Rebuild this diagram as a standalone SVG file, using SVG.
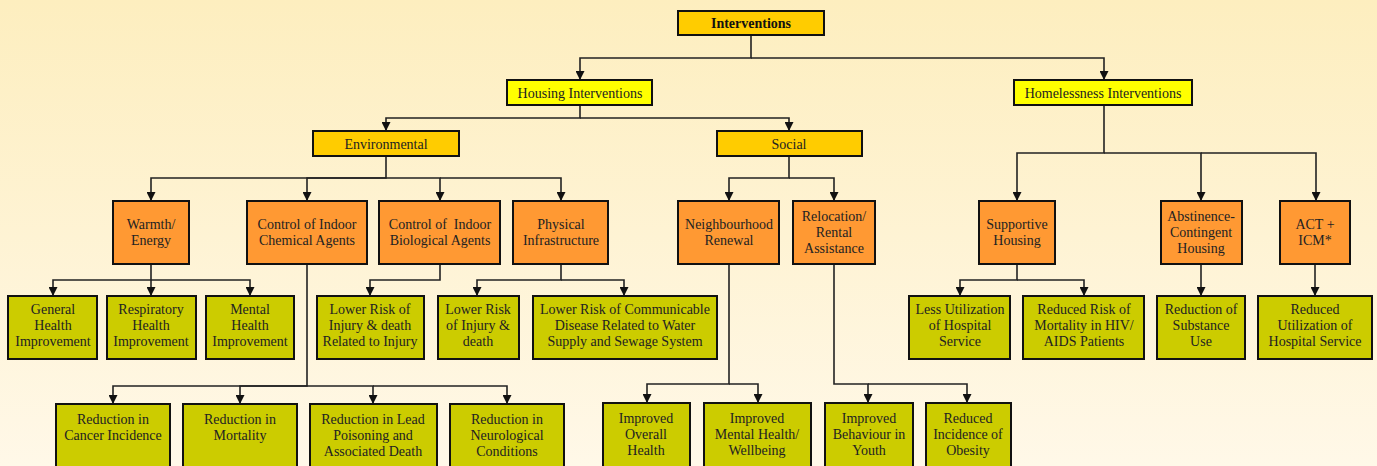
<svg xmlns="http://www.w3.org/2000/svg" width="1377" height="466" viewBox="0 0 1377 466">
<defs>
<linearGradient id="bg" x1="0" y1="0" x2="0" y2="1">
<stop offset="0" stop-color="#fdeebf"/>
<stop offset="1" stop-color="#fff8e8"/>
</linearGradient>
<marker id="arr" viewBox="0 0 10 10" refX="10" refY="5" markerWidth="9" markerHeight="9" markerUnits="userSpaceOnUse" orient="auto">
<path d="M0,0 L10,5 L0,10 z" fill="#111"/>
</marker>
<style>
.box rect{stroke:#111;stroke-width:2}
.top rect{fill:#ffcc00}
.l1 rect{fill:#ffff00}
.l2 rect{fill:#ffcc00}
.l3 rect{fill:#ff9933}
.l4 rect{fill:#cccc00}
text{font-family:"Liberation Serif","Times New Roman",serif;font-size:14px;fill:#222;text-anchor:middle}
.b{font-weight:bold;fill:#111}
#connectors path{fill:none;stroke:#222;stroke-width:1.6}
#connectors path.a{marker-end:url(#arr)}
</style>
</defs>
<rect x="0" y="0" width="1377" height="466" fill="url(#bg)"/>

<g id="connectors">
<path class="a" d="M751,35 V58 H580 V80"/>
<path class="a" d="M751,58 H1104 V80"/>
<path class="a" d="M580,105 V118 H386 V131"/>
<path class="a" d="M580,118 H789 V131"/>
<path class="a" d="M386,156 V178 H151 V201"/>
<path class="a" d="M386,178 H307 V201"/>
<path class="a" d="M386,178 H440 V201"/>
<path class="a" d="M440,178 H561 V201"/>
<path class="a" d="M789,156 V178 H729 V201"/>
<path class="a" d="M789,178 H834 V201"/>
<path class="a" d="M1104,105 V153 H1017 V201"/>
<path class="a" d="M1104,153 H1201 V201"/>
<path class="a" d="M1201,153 H1316 V201"/>
<path class="a" d="M151,264 V280 H53 V296"/>
<path class="a" d="M151,280 V296"/>
<path class="a" d="M151,280 H250 V296"/>
<path class="a" d="M440,264 V280 H370 V296"/>
<path class="a" d="M561,264 V280 H477 V296"/>
<path class="a" d="M561,280 H624 V296"/>
<path class="a" d="M307,264 V386 H113 V404"/>
<path class="a" d="M307,386 H240 V404"/>
<path class="a" d="M307,386 H373 V404"/>
<path class="a" d="M373,386 H507 V404"/>
<path class="a" d="M729,264 V384 H647 V403"/>
<path class="a" d="M729,384 H758 V403"/>
<path class="a" d="M834,264 V384 H868 V403"/>
<path class="a" d="M868,384 H967 V403"/>
<path class="a" d="M1017,264 V280 H960 V296"/>
<path class="a" d="M1017,280 H1084 V296"/>
<path class="a" d="M1201,264 V296"/>
<path class="a" d="M1315,264 V296"/>
</g>

<g id="n-interventions" class="box top"><rect x="678" y="11" width="146" height="24"/><text class="b" x="751" y="28">Interventions</text></g>
<g id="n-housing" class="box l1"><rect x="507" y="80" width="145" height="25"/><text x="580" y="97.5">Housing Interventions</text></g>
<g id="n-homeless" class="box l1"><rect x="1014" y="80" width="178" height="25"/><text x="1103" y="97.5">Homelessness Interventions</text></g>
<g id="n-environmental" class="box l2"><rect x="313" y="131" width="146" height="25"/><text x="386" y="148.5">Environmental</text></g>
<g id="n-social" class="box l2"><rect x="717" y="131" width="145" height="25"/><text x="789" y="148.5">Social</text></g>

<g id="n-warmth" class="box l3"><rect x="113" y="201" width="76" height="63"/><text x="151" y="229">Warmth/</text><text x="151" y="245">Energy</text></g>
<g id="n-chemical" class="box l3"><rect x="247" y="201" width="120" height="63"/><text x="307" y="229">Control of Indoor</text><text x="307" y="245">Chemical Agents</text></g>
<g id="n-biological" class="box l3"><rect x="379" y="201" width="121" height="63"/><text x="440" y="229" xml:space="preserve">Control of  Indoor</text><text x="440" y="245">Biological Agents</text></g>
<g id="n-physical" class="box l3"><rect x="513" y="201" width="95" height="63"/><text x="561" y="229">Physical</text><text x="561" y="245">Infrastructure</text></g>
<g id="n-neighbourhood" class="box l3"><rect x="678" y="201" width="101" height="63"/><text x="729" y="229">Neighbourhood</text><text x="729" y="245">Renewal</text></g>
<g id="n-relocation" class="box l3"><rect x="793" y="201" width="82" height="63"/><text x="834" y="221">Relocation/</text><text x="834" y="237">Rental</text><text x="834" y="253">Assistance</text></g>
<g id="n-supportive" class="box l3"><rect x="979" y="201" width="76" height="63"/><text x="1017" y="229">Supportive</text><text x="1017" y="245">Housing</text></g>
<g id="n-abstinence" class="box l3"><rect x="1161" y="201" width="81" height="63"/><text x="1201" y="221">Abstinence-</text><text x="1201" y="237">Contingent</text><text x="1201" y="253">Housing</text></g>
<g id="n-act" class="box l3"><rect x="1280" y="201" width="70" height="63"/><text x="1315" y="229">ACT +</text><text x="1315" y="245">ICM*</text></g>

<g id="n-general" class="box l4"><rect x="8" y="296" width="89" height="63"/><text x="53" y="314">General</text><text x="53" y="330">Health</text><text x="53" y="346">Improvement</text></g>
<g id="n-respiratory" class="box l4"><rect x="107" y="296" width="89" height="63"/><text x="151" y="314">Respiratory</text><text x="151" y="330">Health</text><text x="151" y="346">Improvement</text></g>
<g id="n-mental" class="box l4"><rect x="206" y="296" width="88" height="63"/><text x="250" y="314">Mental</text><text x="250" y="330">Health</text><text x="250" y="346">Improvement</text></g>
<g id="n-lowerrisk1" class="box l4"><rect x="317" y="296" width="107" height="63"/><text x="370" y="314">Lower Risk of</text><text x="370" y="330">Injury &amp; death</text><text x="370" y="346">Related to Injury</text></g>
<g id="n-lowerrisk2" class="box l4"><rect x="438" y="296" width="81" height="63"/><text x="478" y="314">Lower Risk</text><text x="478" y="330">of Injury &amp;</text><text x="478" y="346">death</text></g>
<g id="n-communicable" class="box l4"><rect x="533" y="296" width="184" height="63"/><text x="625" y="314">Lower Risk of Communicable</text><text x="625" y="330">Disease Related to Water</text><text x="625" y="346">Supply and Sewage System</text></g>
<g id="n-lessutil" class="box l4"><rect x="909" y="296" width="101" height="63"/><text x="960" y="314">Less Utilization</text><text x="960" y="330">of Hospital</text><text x="960" y="346">Service</text></g>
<g id="n-reducedrisk" class="box l4"><rect x="1023" y="296" width="121" height="63"/><text x="1084" y="314">Reduced Risk of</text><text x="1084" y="330">Mortality in HIV/</text><text x="1084" y="346">AIDS Patients</text></g>
<g id="n-substance" class="box l4"><rect x="1157" y="296" width="88" height="63"/><text x="1201" y="314">Reduction of</text><text x="1201" y="330">Substance</text><text x="1201" y="346">Use</text></g>
<g id="n-reducedutil" class="box l4"><rect x="1258" y="296" width="114" height="63"/><text x="1315" y="314">Reduced</text><text x="1315" y="330">Utilization of</text><text x="1315" y="346">Hospital Service</text></g>

<g id="n-cancer" class="box l4"><rect x="56" y="404" width="114" height="70"/><text x="113" y="424">Reduction in</text><text x="113" y="440">Cancer Incidence</text></g>
<g id="n-mortality" class="box l4"><rect x="183" y="404" width="114" height="70"/><text x="240" y="424">Reduction in</text><text x="240" y="440">Mortality</text></g>
<g id="n-lead" class="box l4"><rect x="310" y="404" width="127" height="70"/><text x="373" y="424">Reduction in Lead</text><text x="373" y="440">Poisoning and</text><text x="373" y="456">Associated Death</text></g>
<g id="n-neuro" class="box l4"><rect x="450" y="404" width="114" height="70"/><text x="507" y="424">Reduction in</text><text x="507" y="440">Neurological</text><text x="507" y="456">Conditions</text></g>
<g id="n-overall" class="box l4"><rect x="603" y="403" width="87" height="70"/><text x="646" y="423">Improved</text><text x="646" y="439">Overall</text><text x="646" y="455">Health</text></g>
<g id="n-mentalwell" class="box l4"><rect x="704" y="403" width="107" height="70"/><text x="757" y="423">Improved</text><text x="757" y="439">Mental Health/</text><text x="757" y="455">Wellbeing</text></g>
<g id="n-behaviour" class="box l4"><rect x="825" y="403" width="88" height="70"/><text x="869" y="423">Improved</text><text x="869" y="439">Behaviour in</text><text x="869" y="455">Youth</text></g>
<g id="n-obesity" class="box l4"><rect x="926" y="403" width="85" height="70"/><text x="968" y="423">Reduced</text><text x="968" y="439">Incidence of</text><text x="968" y="455">Obesity</text></g>
</svg>
